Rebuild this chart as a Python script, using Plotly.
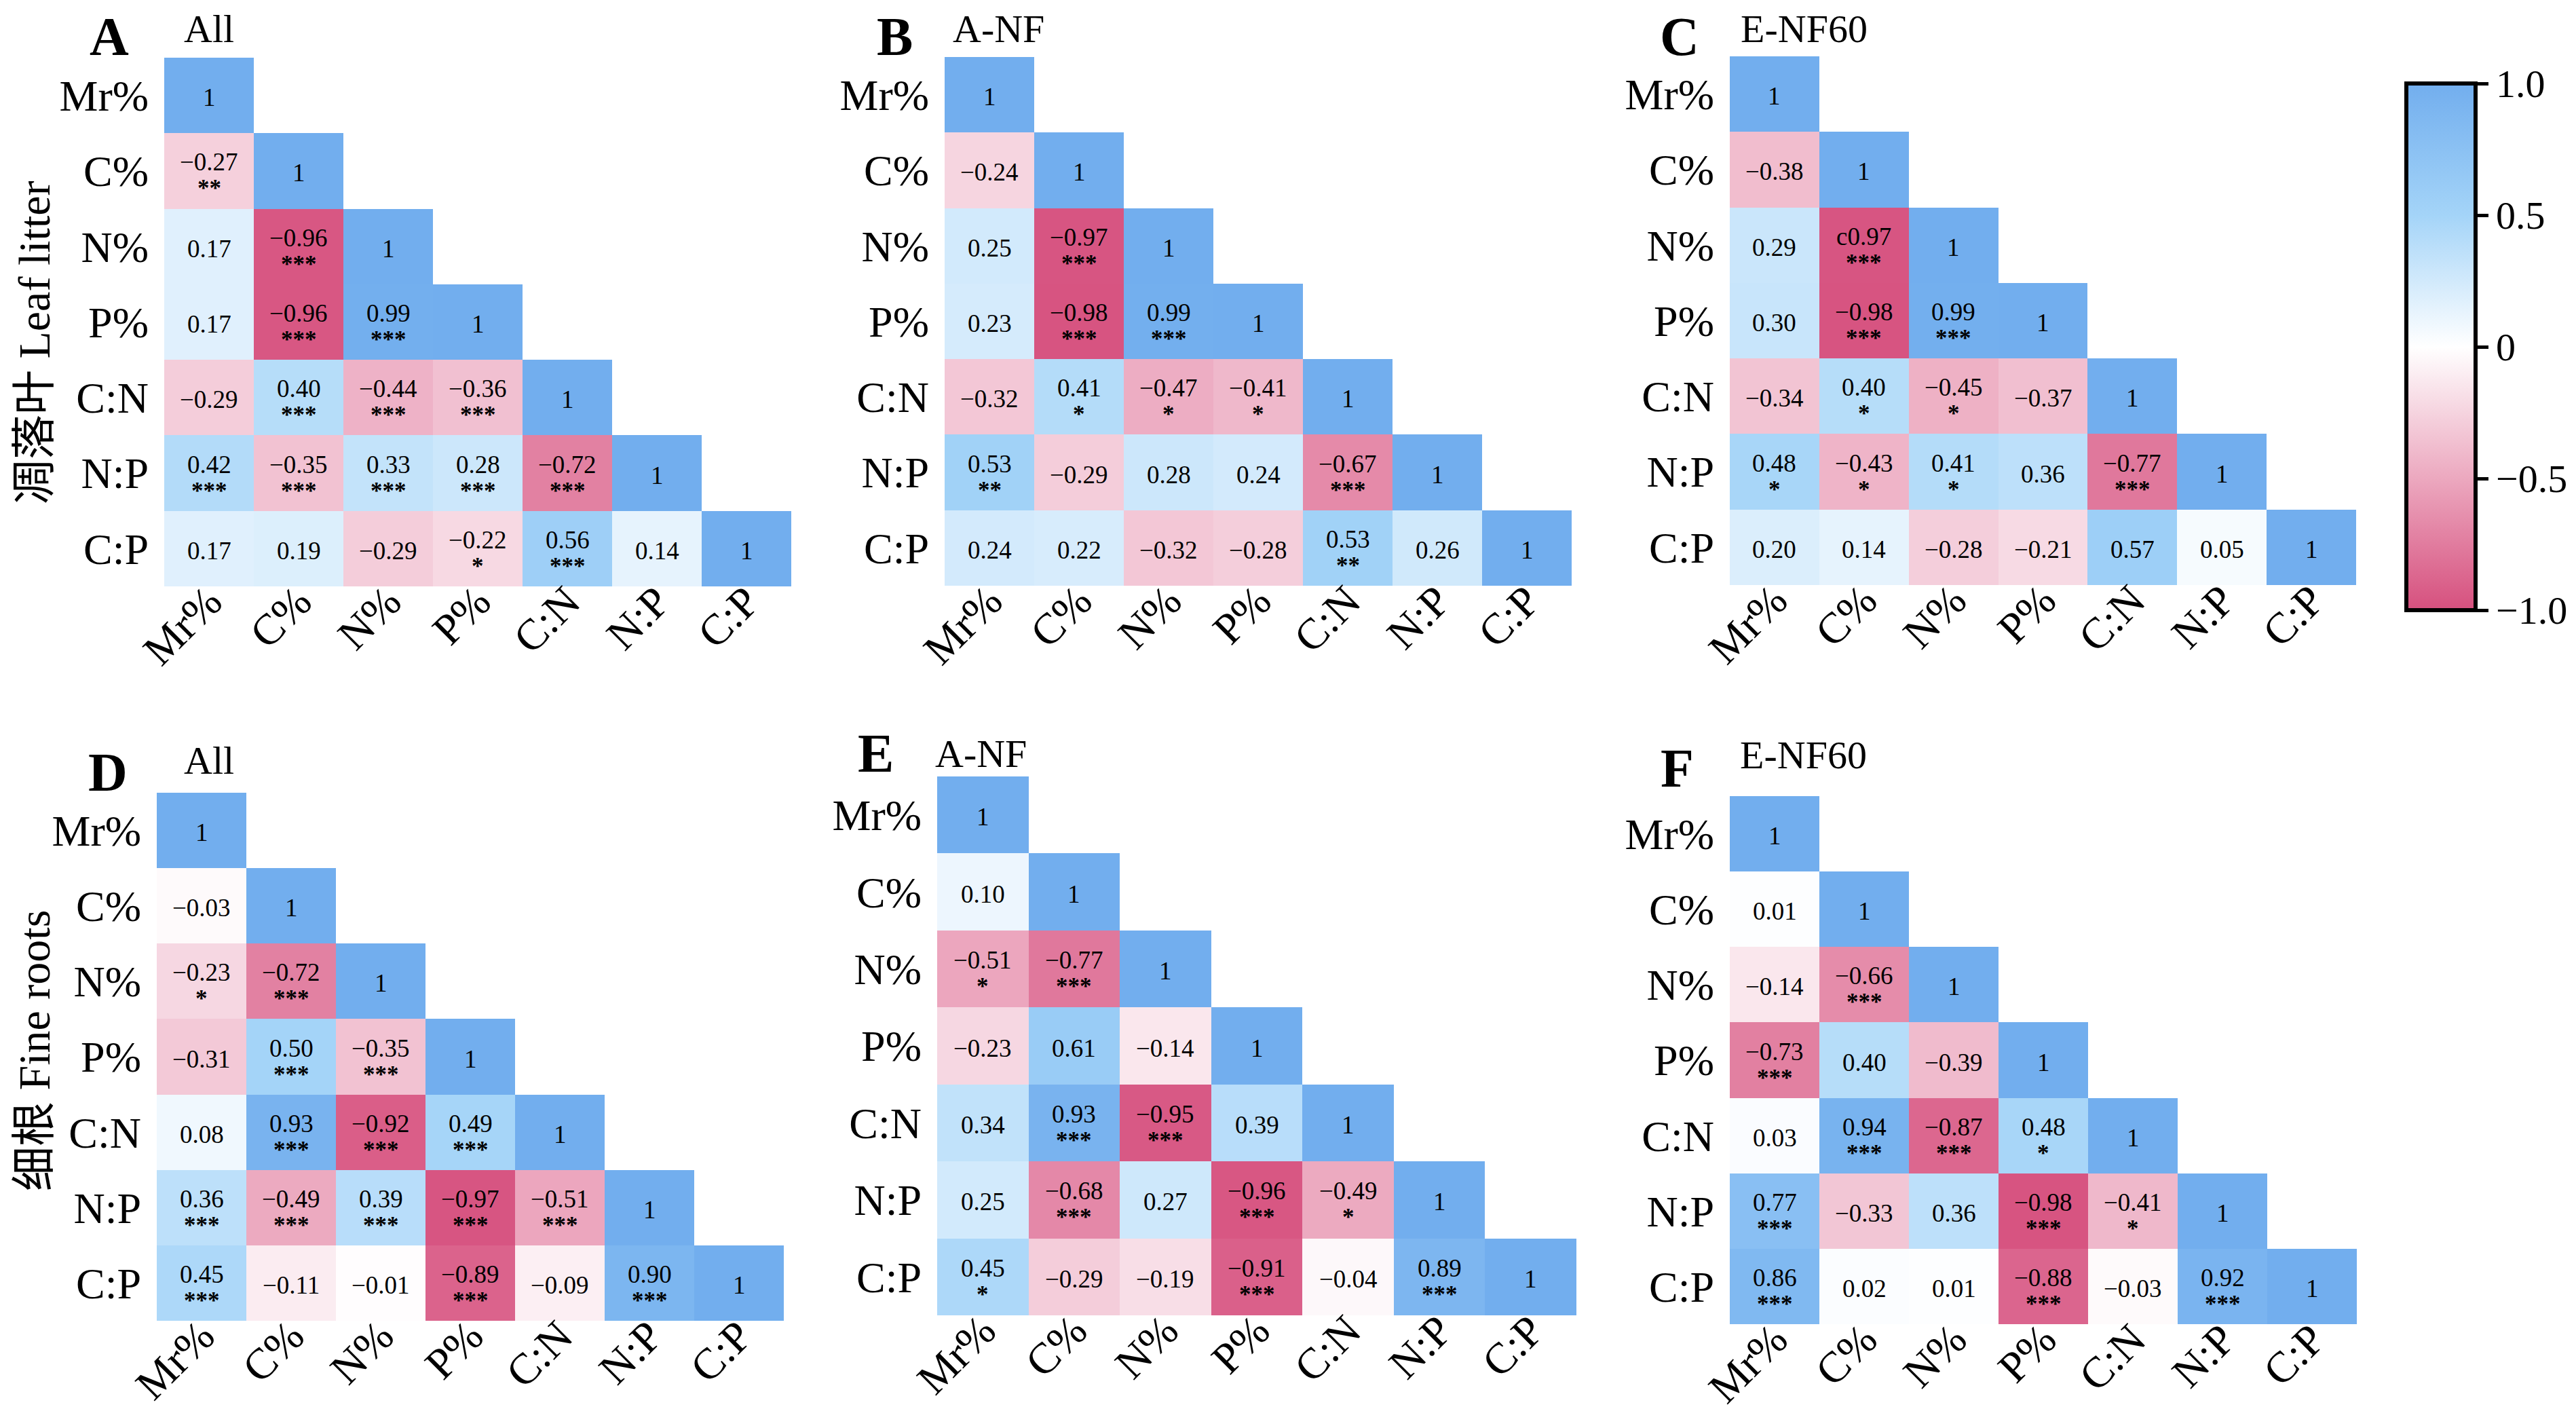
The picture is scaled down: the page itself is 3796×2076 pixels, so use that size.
import plotly.graph_objects as go

W, H = 3796, 2076
FONT = "Liberation Serif, Times New Roman, Noto Sans CJK SC"

vars_ = ["Mr%", "C%", "N%", "P%", "C:N", "N:P", "C:P"]

# lower-triangle correlation values, row by row
r_A = [[1],
       [-0.27, 1],
       [0.17, -0.96, 1],
       [0.17, -0.96, 0.99, 1],
       [-0.29, 0.40, -0.44, -0.36, 1],
       [0.42, -0.35, 0.33, 0.28, -0.72, 1],
       [0.17, 0.19, -0.29, -0.22, 0.56, 0.14, 1]]
s_A = [[""],
       ["**", ""],
       ["", "***", ""],
       ["", "***", "***", ""],
       ["", "***", "***", "***", ""],
       ["***", "***", "***", "***", "***", ""],
       ["", "", "", "*", "***", "", ""]]

r_B = [[1],
       [-0.24, 1],
       [0.25, -0.97, 1],
       [0.23, -0.98, 0.99, 1],
       [-0.32, 0.41, -0.47, -0.41, 1],
       [0.53, -0.29, 0.28, 0.24, -0.67, 1],
       [0.24, 0.22, -0.32, -0.28, 0.53, 0.26, 1]]
s_B = [[""],
       ["", ""],
       ["", "***", ""],
       ["", "***", "***", ""],
       ["", "*", "*", "*", ""],
       ["**", "", "", "", "***", ""],
       ["", "", "", "", "**", "", ""]]

r_C = [[1],
       [-0.38, 1],
       [0.29, -0.97, 1],
       [0.30, -0.98, 0.99, 1],
       [-0.34, 0.40, -0.45, -0.37, 1],
       [0.48, -0.43, 0.41, 0.36, -0.77, 1],
       [0.20, 0.14, -0.28, -0.21, 0.57, 0.05, 1]]
s_C = [[""],
       ["", ""],
       ["", "***", ""],
       ["", "***", "***", ""],
       ["", "*", "*", "", ""],
       ["*", "*", "*", "", "***", ""],
       ["", "", "", "", "", "", ""]]

r_D = [[1],
       [-0.03, 1],
       [-0.23, -0.72, 1],
       [-0.31, 0.50, -0.35, 1],
       [0.08, 0.93, -0.92, 0.49, 1],
       [0.36, -0.49, 0.39, -0.97, -0.51, 1],
       [0.45, -0.11, -0.01, -0.89, -0.09, 0.90, 1]]
s_D = [[""],
       ["", ""],
       ["*", "***", ""],
       ["", "***", "***", ""],
       ["", "***", "***", "***", ""],
       ["***", "***", "***", "***", "***", ""],
       ["***", "", "", "***", "", "***", ""]]

r_E = [[1],
       [0.10, 1],
       [-0.51, -0.77, 1],
       [-0.23, 0.61, -0.14, 1],
       [0.34, 0.93, -0.95, 0.39, 1],
       [0.25, -0.68, 0.27, -0.96, -0.49, 1],
       [0.45, -0.29, -0.19, -0.91, -0.04, 0.89, 1]]
s_E = [[""],
       ["", ""],
       ["*", "***", ""],
       ["", "", "", ""],
       ["", "***", "***", "", ""],
       ["", "***", "", "***", "*", ""],
       ["*", "", "", "***", "", "***", ""]]

r_F = [[1],
       [0.01, 1],
       [-0.14, -0.66, 1],
       [-0.73, 0.40, -0.39, 1],
       [0.03, 0.94, -0.87, 0.48, 1],
       [0.77, -0.33, 0.36, -0.98, -0.41, 1],
       [0.86, 0.02, 0.01, -0.88, -0.03, 0.92, 1]]
s_F = [[""],
       ["", ""],
       ["", "***", ""],
       ["***", "", "", ""],
       ["", "***", "***", "*", ""],
       ["***", "", "", "***", "*", ""],
       ["***", "", "", "***", "", "***", ""]]

# label exactly as printed in the source figure
label_fix = {("C", 2, 1): "c0.97"}

panels = [
    # key, subtitle, values, stars, box px (x0, x1, y0, y1), letter px, subtitle px
    ("A", "All", r_A, s_A, (234, 1158, 77, 856), (153, 45), (300, 22)),
    ("B", "A-NF", r_B, s_B, (1384, 2308, 76, 855), (1310, 46), (1463, 26)),
    ("C", "E-NF60", r_C, s_C, (2541, 3464, 75, 854), (2467, 50), (2650, 27)),
    ("D", "All", r_D, s_D, (223, 1147, 1160, 1938), (151, 1130), (300, 1112)),
    ("E", "A-NF", r_E, s_E, (1373, 2315, 1136, 1930), (1282, 1102), (1437, 1102)),
    ("F", "E-NF60", r_F, s_F, (2541, 3465, 1165, 1943), (2463, 1124), (2649, 1104)),
]

cscale = [[0.0, "#d6507e"], [0.25, "#eca8bf"], [0.5, "#ffffff"],
          [0.75, "#a4d4f8"], [1.0, "#72aeee"]]


def fmt(v):
    if v == 1:
        return "1"
    return f"{v:.2f}".replace("-", "\u2212")


def paper_note(x, y, text, size, bold=False, angle=0):
    note = dict(
        x=x / W, y=1 - y / H, xref="paper", yref="paper",
        xanchor="center", yanchor="middle", textangle=angle,
        text="<b>" + text + "</b>" if bold else text, showarrow=False,
        font=dict(family=FONT, size=size, color="black"),
    )
    # keep the text box inside the page when it sits right at the top edge
    if y < size * 0.65:
        note.update(y=1, yanchor="top")
    return note


fig = go.Figure()
annotations = []
layout_axes = {}

for i, (key, sub, vals, stars, box, lpos, spos) in enumerate(panels):
    n = i + 1
    sx = "" if n == 1 else str(n)
    x0, x1, y0, y1 = box
    z = [[vals[r][c] if c <= r else None for c in range(7)] for r in range(7)]

    fig.add_trace(go.Heatmap(
        z=z, x=vars_, y=vars_,
        xaxis="x" + sx, yaxis="y" + sx,
        colorscale=cscale, zmin=-1, zmax=1,
        showscale=(n == 1), hoverinfo="skip",
        colorbar=dict(
            x=3538 / W, xanchor="left", xpad=0,
            y=1 - 115 / H, yanchor="top", ypad=0,
            len=(891 - 115) / H, lenmode="fraction",
            thickness=102, outlinewidth=6, outlinecolor="black",
            ticks="outside", ticklen=16, tickwidth=5, tickcolor="black",
            tickvals=[-1, -0.5, 0, 0.5, 1],
            ticktext=["\u22121.0", "\u22120.5", "0", "0.5", "1.0"],
            tickfont=dict(family=FONT, size=58, color="black"),
        ) if n == 1 else None,
    ))

    layout_axes["xaxis" + sx] = dict(
        domain=[x0 / W, x1 / W], anchor="y" + sx, automargin=False,
        type="category", categoryorder="array", categoryarray=vars_,
        showgrid=False, zeroline=False, showline=False, ticks="",
        tickangle=-45, ticklabelstandoff=-29,
        tickfont=dict(family=FONT, size=64, color="black"),
    )
    layout_axes["yaxis" + sx] = dict(
        domain=[1 - y1 / H, 1 - y0 / H], anchor="x" + sx, automargin=False,
        type="category", categoryorder="array", categoryarray=vars_,
        autorange="reversed",
        showgrid=False, zeroline=False, showline=False, ticks="",
        ticklabelstandoff=22,
        tickfont=dict(family=FONT, size=64, color="black"),
    )

    for r in range(7):
        for c in range(r + 1):
            v = vals[r][c]
            st = stars[r][c]
            txt = label_fix.get((key, r, c), fmt(v))
            annotations.append(dict(
                x=vars_[c], y=vars_[r], xref="x" + sx, yref="y" + sx,
                xanchor="center", yanchor="middle",
                text=txt, showarrow=False, yshift=13 if st else -3,
                font=dict(family=FONT, size=37, color="black"),
            ))
            if st:
                annotations.append(dict(
                    x=vars_[c], y=vars_[r], xref="x" + sx, yref="y" + sx,
                    xanchor="center", yanchor="middle",
                    text="<b>" + st + "</b>", showarrow=False, yshift=-26,
                    font=dict(family=FONT, size=35, color="black"),
                ))

    annotations.append(paper_note(lpos[0], lpos[1], key, 80, bold=True))
    annotations.append(paper_note(spos[0], spos[1], sub, 58))

# row titles
annotations.append(paper_note(42, 497, "凋落叶 Leaf litter", 66, angle=-90))
annotations.append(paper_note(42, 1540, "细根 Fine roots", 66, angle=-90))

fig.update_layout(
    width=W, height=H,
    margin=dict(l=0, r=0, t=0, b=0, autoexpand=False),
    paper_bgcolor="white", plot_bgcolor="white",
    annotations=annotations,
    **layout_axes,
)

fig.write_html("out.html")
